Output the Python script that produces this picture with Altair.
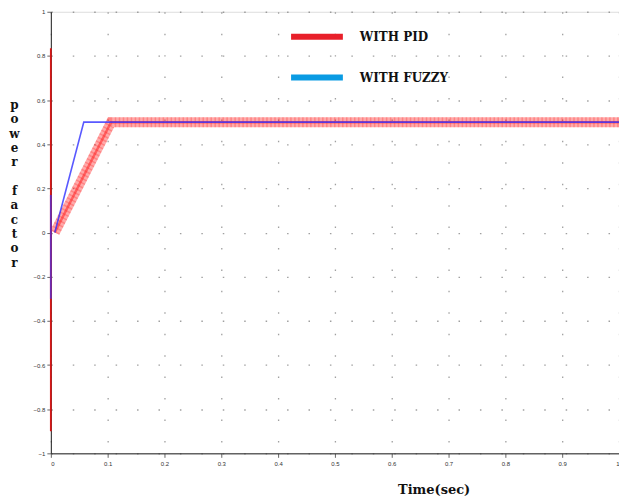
import altair as alt
import pandas as pd

# ---- data ----
time_pid = [0.007, 0.106, 1.0]
pf_pid = [0.0, 0.5, 0.5]
time_fuzzy = [0.007, 0.058, 1.0]
pf_fuzzy = [0.0, 0.5, 0.5]
spike_t = [0.0, 0.0]
pid_spike = [0.835, -0.9]
fuzzy_spike = [0.17, -0.3]
series_names = ["WITH PID", "WITH FUZZY"]
legend_colors = ["#e8202a", "#0a9be3"]
x_ticks = [0, 0.1, 0.2, 0.3, 0.4, 0.5, 0.6, 0.7, 0.8, 0.9, 1.0]
y_ticks = [-1, -0.8, -0.6, -0.4, -0.2, 0, 0.2, 0.4, 0.6, 0.8, 1]
y_title = ["p", "o", "w", "e", "r", "\u200b", "f", "a", "c", "t", "o", "r"]

pid_df = pd.DataFrame({"t": time_pid, "v": pf_pid})
fuzzy_df = pd.DataFrame({"t": time_fuzzy, "v": pf_fuzzy})
pid_spike_df = pd.DataFrame({"t": spike_t, "v": pid_spike})
fuzzy_spike_df = pd.DataFrame({"t": spike_t, "v": fuzzy_spike})
legend_df = pd.DataFrame({"t": [0.5, 0.5], "v": [0.0, 0.0], "series": series_names})

xs = alt.Scale(domain=[0, 1], nice=False, zero=False)
ys = alt.Scale(domain=[-1, 1], nice=False, zero=False)

grid_style = dict(grid=True, gridColor="#888", gridDash=[1.5, 20], gridWidth=1.3, gridOpacity=0.8)

x_axis = alt.Axis(values=x_ticks, format="~g", title="Time(sec)",
                  titleX=384, titleY=36, titleAlign="center", titleBaseline="middle",
                  titleFont="DejaVu Serif", titleFontSize=13, titleFontWeight="bold",
                  titleColor="#111", labelFontSize=6, labelColor="#333",
                  tickSize=4, tickColor="#666", labelPadding=3, domainColor="#222",
                  **grid_style)
y_axis = alt.Axis(values=y_ticks, format="~g", title=y_title,
                  titleAngle=0, titleX=-37, titleY=88, titleAlign="center",
                  titleBaseline="top", titleLineHeight=14.4,
                  titleFont="DejaVu Serif", titleFontSize=12, titleFontWeight="bold",
                  titleColor="#111", labelFontSize=6, labelColor="#333",
                  tickSize=4, tickColor="#666", labelPadding=2, domainColor="#222",
                  **grid_style)

X = alt.X("t:Q", scale=xs, axis=x_axis)
Y = alt.Y("v:Q", scale=ys, axis=y_axis)

pid_band = alt.Chart(pid_df).mark_line(color="#ff2020", strokeWidth=10, opacity=0.38,
                                       strokeCap="butt").encode(x=X, y=Y)
pid_dash = alt.Chart(pid_df).mark_line(color="#ff1010", strokeWidth=10, opacity=0.25,
                                       strokeDash=[1.5, 2.5]).encode(x=X, y=Y)
pid_core = alt.Chart(pid_df).mark_line(color="#ff2020", strokeWidth=2.5, opacity=0.55).encode(x=X, y=Y)
pid_sp = alt.Chart(pid_spike_df).mark_line(color="#d81818", strokeWidth=1.8).encode(x=X, y=Y)
fuzzy_line = alt.Chart(fuzzy_df).mark_line(color="#3030ff", strokeWidth=1.6, opacity=0.8).encode(x=X, y=Y)
fuzzy_sp = alt.Chart(fuzzy_spike_df).mark_line(color="#5a30d0", strokeWidth=1.8, opacity=0.85).encode(x=X, y=Y)

legend_layer = alt.Chart(legend_df).mark_line(opacity=0).encode(
    x=X, y=Y,
    color=alt.Color("series:N", sort=series_names,
                    scale=alt.Scale(domain=series_names, range=legend_colors),
                    legend=alt.Legend(orient="none", legendX=238, legendY=-4, title=None,
                                      symbolType="stroke", symbolStrokeWidth=6,
                                      symbolSize=2700, symbolOpacity=1,
                                      labelFont="DejaVu Serif", labelFontWeight="bold",
                                      labelFontSize=12, labelColor="#111",
                                      labelOffset=14, rowPadding=-17)))

chart = alt.layer(legend_layer, pid_band, pid_dash, pid_core, pid_sp, fuzzy_line, fuzzy_sp).properties(
    width=570, height=443,
    autosize=alt.AutoSizeParams(type="none"),
    padding={"left": 51, "top": 11, "right": 0, "bottom": 44},
).configure_view(stroke="#111", strokeWidth=1).configure(background="white")

chart.save("out.html", embed_options={"renderer": "svg", "actions": False})
